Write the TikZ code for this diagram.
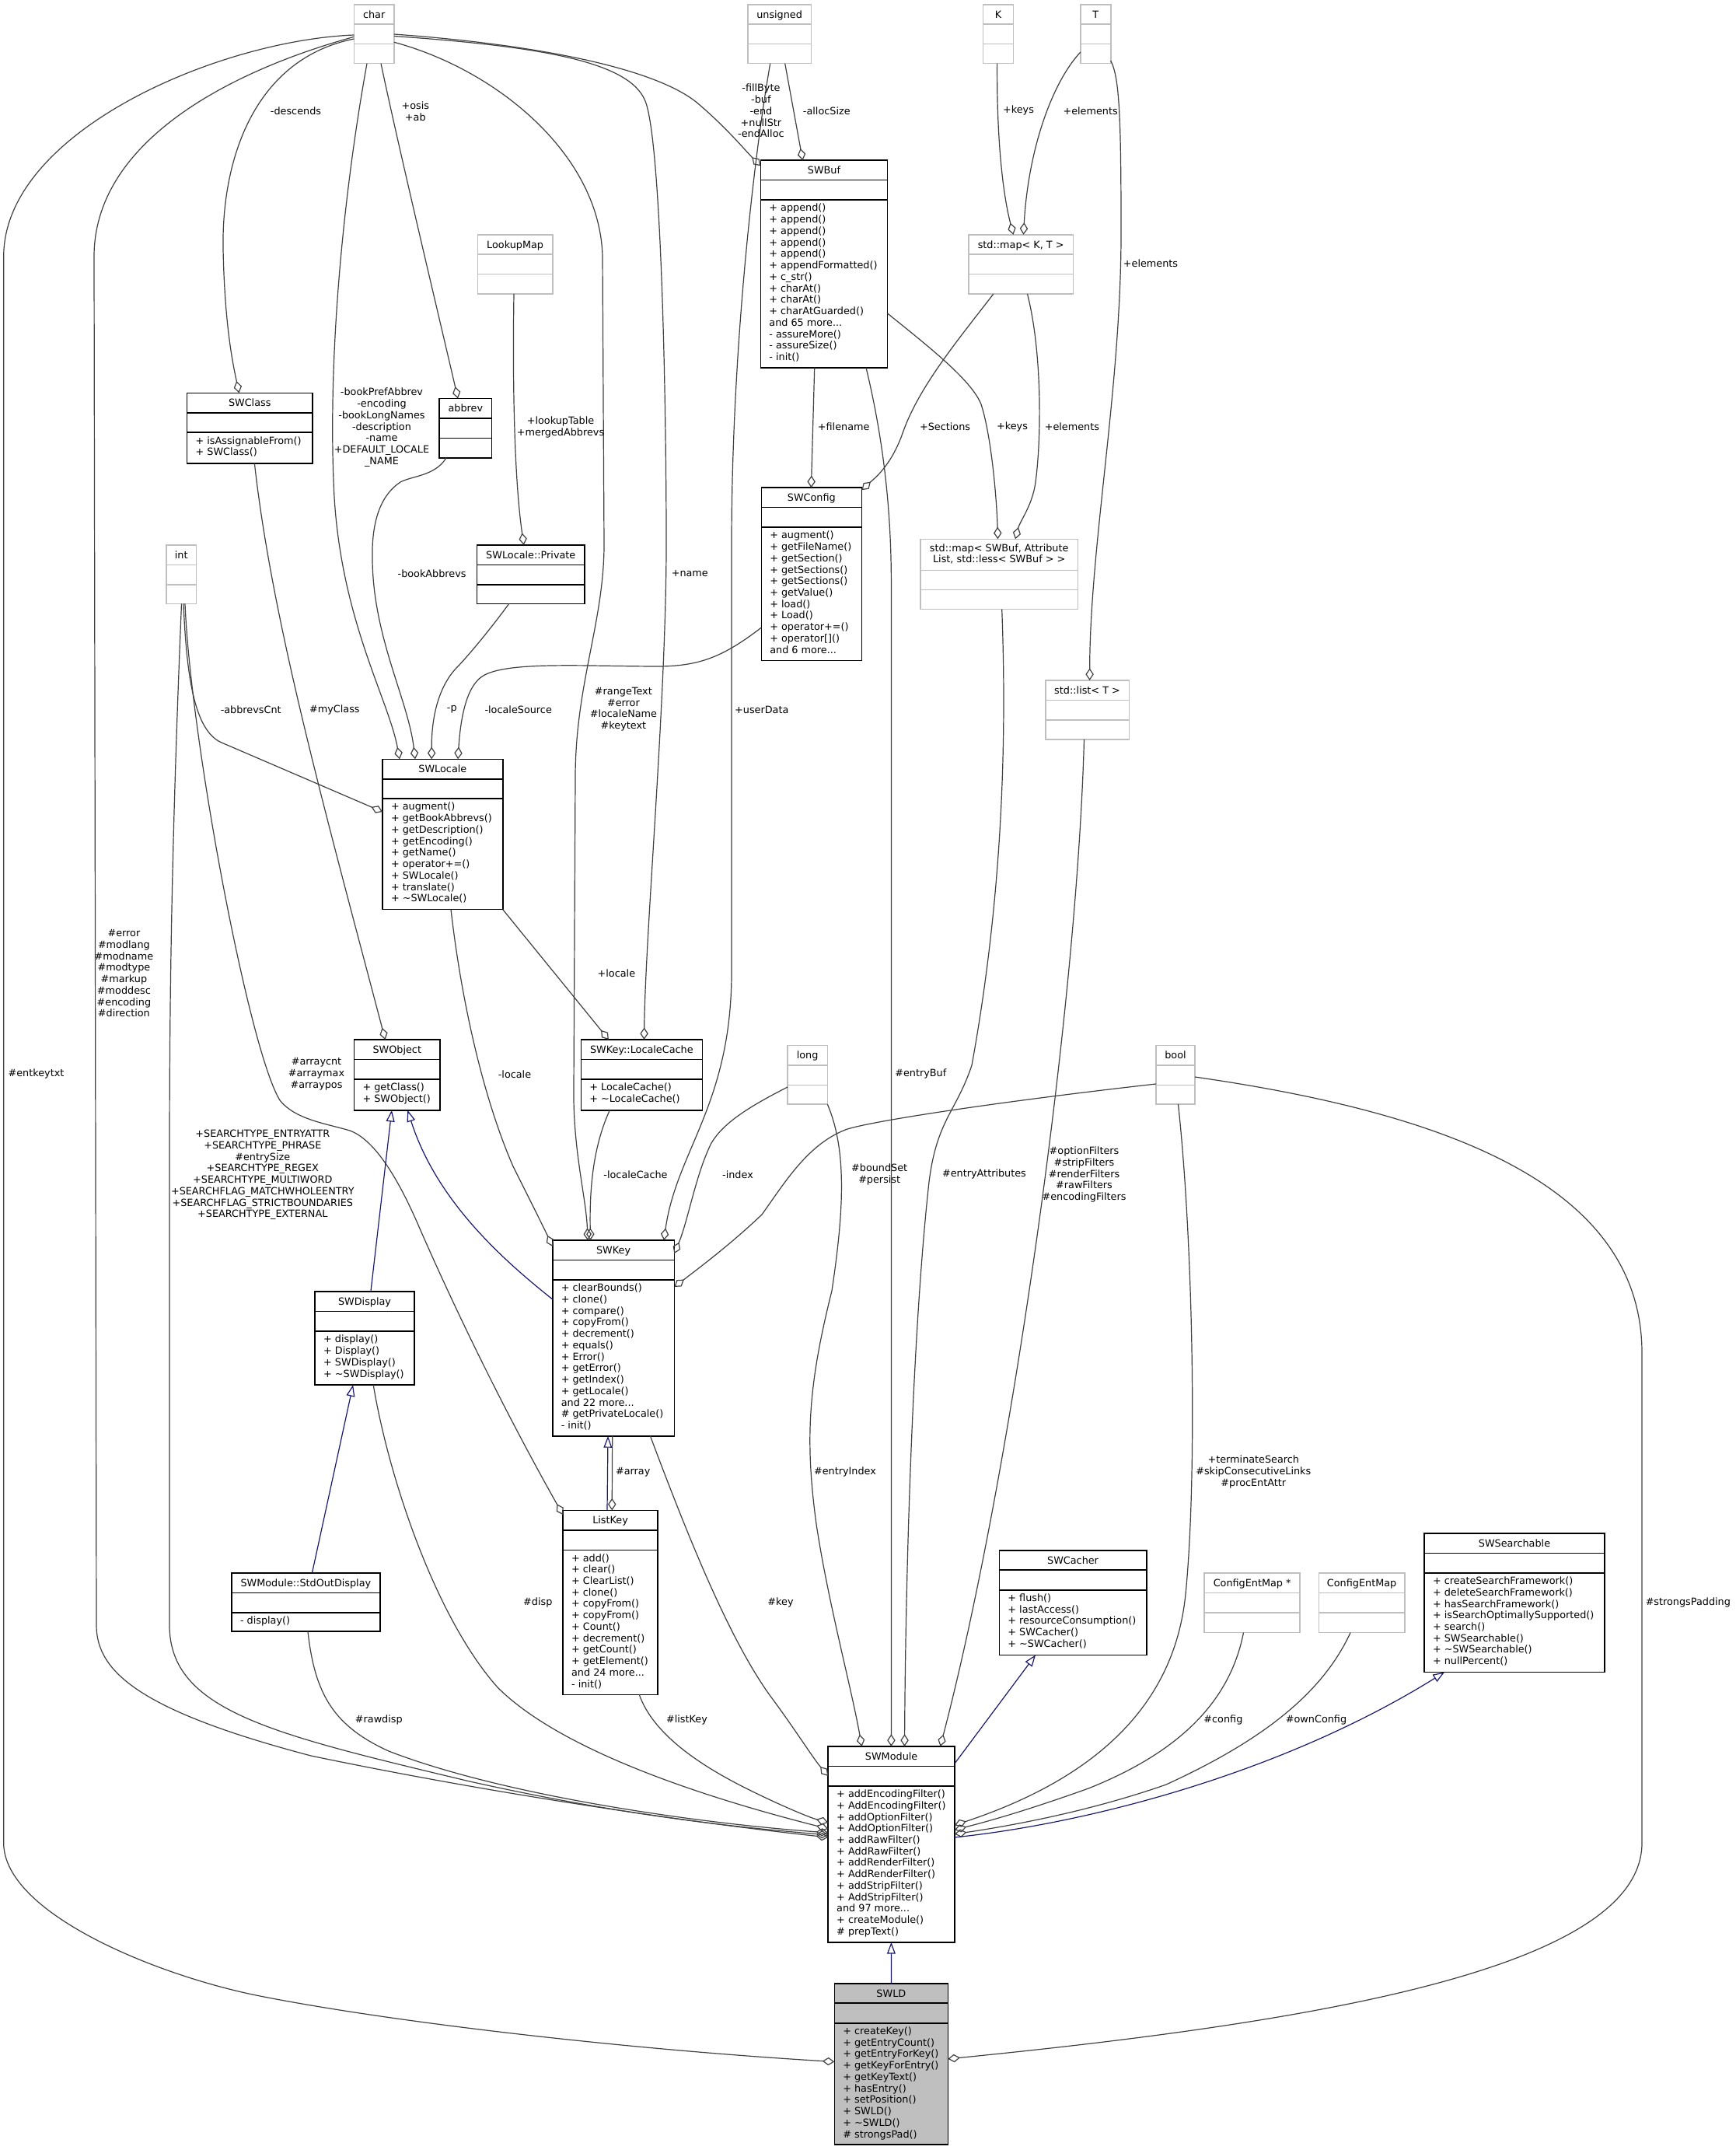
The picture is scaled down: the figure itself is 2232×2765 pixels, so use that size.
\documentclass[tikz,border=0pt]{standalone}
\usepackage{fontspec}
\setmainfont{DejaVu Sans}
\usetikzlibrary{arrows.meta,calc,fit}
\definecolor{edgegray}{HTML}{404040}
\definecolor{midblue}{HTML}{191970}
\definecolor{boxgray}{HTML}{BFBFBF}
\newcommand\UML[9]{%
  \node[box, draw=#2, fill=#9, fit={(#3,#4) (#5,#6)}] (#1) {};
  \draw[draw=#2, line width=0.8pt] ($(#1.north west)+(0,25.4)$) -- ($(#1.north east)+(0,25.4)$);
  \draw[draw=#2, line width=0.8pt] ($(#1.north west)+(0,50.9)$) -- ($(#1.north east)+(0,50.9)$);
  \node[txt, anchor=base] (#1-t) at ($(#1.north)+(0,17.3)$) {#7};
  \node[txt, anchor=north west, align=left] (#1-m) at ($(#1.north west)+(11,55.6)$) {\rule{0pt}{5pt}#8};
}
\begin{document}
\begin{tikzpicture}[x=0.5pt, y={(0pt,-0.5pt)},
  txt/.style={font=\fontsize{6.4}{7.37}\selectfont, inner sep=0pt, outer sep=0pt, text=black},
  lbl/.style={txt, align=center},
  box/.style={inner sep=0pt, outer sep=0pt, line width=0.8pt},
  agg/.style={draw=edgegray, line width=0.6pt, -{Diamond[open, length=7.8pt, width=5.2pt, line width=0.6pt]}},
  inh/.style={draw=midblue, line width=0.6pt, -{Triangle[open, length=7.4pt, width=5.4pt, line width=0.6pt]}}]
\fill[white] (0,0) rectangle (2232,2765);
\useasboundingbox (0,0) rectangle (2232,2765);

% ---------------- boxes ----------------
\UML{char}{boxgray}{455.5}{5.8}{506.8}{81.7}{char}{}{white}
\UML{unsigned}{boxgray}{961.8}{5.8}{1043.4}{81.7}{unsigned}{}{white}
\UML{kk}{boxgray}{1264.5}{5.8}{1303.4}{81.7}{K}{}{white}
\UML{tt}{boxgray}{1389.8}{5.8}{1428.7}{81.7}{T}{}{white}
\UML{swbuf}{black}{978.4}{206.3}{1141.6}{473.2}{SWBuf}{+ append()\\+ append()\\+ append()\\+ append()\\+ append()\\+ appendFormatted()\\+ c\_str()\\+ charAt()\\+ charAt()\\+ charAtGuarded()\\and 65 more...\\- assureMore()\\- assureSize()\\- init()}{white}
\UML{lookupmap}{boxgray}{614.5}{301.8}{710.8}{378.1}{LookupMap}{}{white}
\UML{mapkt}{boxgray}{1246}{301.8}{1380.3}{378.1}{std::map< K, T >}{}{white}
\UML{swclass}{black}{240.6}{505.4}{401.9}{596}{SWClass}{+ isAssignableFrom()\\+ SWClass()}{white}
\UML{abbrev}{black}{565.1}{512.5}{632.5}{588.8}{abbrev}{}{white}
\UML{swconfig}{black}{979.3}{627.2}{1108.4}{849.6}{SWConfig}{+ augment()\\+ getFileName()\\+ getSection()\\+ getSections()\\+ getSections()\\+ getValue()\\+ load()\\+ Load()\\+ operator+=()\\+ operator[]()\\and 6 more...}{white}
\node[box, draw=boxgray, fill=white, fit={(1183.9,693.3) (1386.5,783.5)}] (mapsb) {};
\draw[boxgray, line width=0.8pt] ($(mapsb.north west)+(0,40.2)$) -- ($(mapsb.north east)+(0,40.2)$);
\draw[boxgray, line width=0.8pt] ($(mapsb.north west)+(0,65.2)$) -- ($(mapsb.north east)+(0,65.2)$);
\node[txt, align=center, anchor=north] (mapsb-t) at ($(mapsb.north)+(0,5.7)$) {\rule{0pt}{5pt}std::map< SWBuf, Attribute\\List, std::less< SWBuf > >};
\UML{priv}{black}{613.5}{700.9}{752}{776.3}{SWLocale::Private}{}{white}
\UML{inty}{boxgray}{214}{700.9}{252.4}{776.3}{int}{}{white}
\UML{listt}{boxgray}{1344.7}{875}{1452.4}{950.9}{std::list< T >}{}{white}
\UML{swlocale}{black}{492}{976.3}{646.7}{1169.6}{SWLocale}{+ augment()\\+ getBookAbbrevs()\\+ getDescription()\\+ getEncoding()\\+ getName()\\+ operator+=()\\+ SWLocale()\\+ translate()\\+ \textasciitilde SWLocale()}{white}
\UML{swobject}{black}{455.5}{1337}{566.1}{1427.7}{SWObject}{+ getClass()\\+ SWObject()}{white}
\UML{lcache}{black}{747.3}{1337}{903.4}{1427.7}{SWKey::LocaleCache}{+ LocaleCache()\\+ \textasciitilde LocaleCache()}{white}
\UML{longy}{boxgray}{1013}{1344.6}{1064.3}{1420.1}{long}{}{white}
\UML{booly}{boxgray}{1487}{1344.6}{1537}{1420.1}{bool}{}{white}
\UML{swkey}{black}{710.8}{1595}{867.4}{1846.9}{SWKey}{+ clearBounds()\\+ clone()\\+ compare()\\+ copyFrom()\\+ decrement()\\+ equals()\\+ Error()\\+ getError()\\+ getIndex()\\+ getLocale()\\and 22 more...\\\# getPrivateLocale()\\- init()}{white}
\UML{swdisplay}{black}{405.2}{1661.2}{532.9}{1781}{SWDisplay}{+ display()\\+ Display()\\+ SWDisplay()\\+ \textasciitilde SWDisplay()}{white}
\UML{listkey}{black}{724.1}{1942.4}{846}{2179.4}{ListKey}{+ add()\\+ clear()\\+ ClearList()\\+ clone()\\+ copyFrom()\\+ copyFrom()\\+ Count()\\+ decrement()\\+ getCount()\\+ getElement()\\and 24 more...\\- init()}{white}
\UML{stdout}{black}{298}{2023.2}{488.7}{2098.2}{SWModule::StdOutDisplay}{- display()}{white}
\UML{swcacher}{black}{1285.4}{1993.8}{1474.7}{2128.4}{SWCacher}{+ flush()\\+ lastAccess()\\+ resourceConsumption()\\+ SWCacher()\\+ \textasciitilde SWCacher()}{white}
\UML{swsearch}{black}{1832}{1971.9}{2064}{2150.5}{SWSearchable}{+ createSearchFramework()\\+ deleteSearchFramework()\\+ hasSearchFramework()\\+ isSearchOptimallySupported()\\+ search()\\+ SWSearchable()\\+ \textasciitilde SWSearchable()\\+ nullPercent()}{white}
\UML{cfgp}{boxgray}{1549.2}{2023.2}{1672.1}{2099.5}{ConfigEntMap *}{}{white}
\UML{cfg}{boxgray}{1696.3}{2023.2}{1806.9}{2099.5}{ConfigEntMap}{}{white}
\UML{swmodule}{black}{1065.2}{2245.9}{1228}{2497.8}{SWModule}{+ addEncodingFilter()\\+ AddEncodingFilter()\\+ addOptionFilter()\\+ AddOptionFilter()\\+ addRawFilter()\\+ AddRawFilter()\\+ addRenderFilter()\\+ AddRenderFilter()\\+ addStripFilter()\\+ AddStripFilter()\\and 97 more...\\+ createModule()\\\# prepText()}{white}
\UML{swld}{black}{1073.3}{2550.8}{1219.4}{2758.2}{SWLD}{+ createKey()\\+ getEntryCount()\\+ getEntryForKey()\\+ getKeyForEntry()\\+ getKeyText()\\+ hasEntry()\\+ setPosition()\\+ SWLD()\\+ \textasciitilde SWLD()\\\# strongsPad()}{boxgray}

% ---------------- edges ----------------
% from char
\draw[agg] ($(char.north west)+(0,39.2)$) .. controls (280,52) and (4.7,170) .. (4.7,330) -- (4.7,2370) .. controls (4.7,2460) and (200,2540) .. (332,2566.5) .. controls (500,2600) and (800,2635) .. ($(swld.north west)+(0,100.7)$);
\draw[agg] ($(char.north west)+(0,41.5)$) .. controls (300,90) and (121,180) .. (121,330) -- (124,2090) .. controls (124,2150) and (180,2200) .. (400,2258) .. controls (650,2310) and (900,2345) .. ($(swmodule.north west)+(0,117)$);
\draw[agg] ($(char.north west)+(0,44.2)$) .. controls (330,75) and (285,200) .. (287,320) .. controls (289,420) and (300,470) .. ($(swclass.north west)+(66.9,0)$);
\draw[agg] ($(char.north west)+(16.5,75.9)$) .. controls (445,230) and (420,450) .. (430,640) .. controls (440,800) and (500,900) .. ($(swlocale.north west)+(22,0)$);
\draw[agg] ($(char.north west)+(34.5,75.9)$) .. controls (515,200) and (570,430) .. ($(abbrev.north west)+(23.9,0)$);
\draw[agg] ($(char.north west)+(51.3,48.5)$) .. controls (640,90) and (772,200) .. (775,330) -- (777,700) .. controls (777,800) and (740,880) .. (740,1000) -- (738,1400) .. controls (737,1480) and (754,1540) .. ($(swkey.north west)+(45.2,0)$);
\draw[agg] ($(char.north west)+(51.3,38.2)$) .. controls (700,58) and (850,90) .. (900,135) .. controls (935,165) and (960,195) .. ($(swbuf.north west)+(0,7)$);
\draw[agg] ($(char.north west)+(51.3,40.7)$) .. controls (700,60) and (810,80) .. (830,130) .. controls (850,180) and (857,500) .. (857,700) .. controls (857,900) and (830,1200) .. ($(lcache.north west)+(81.2,0)$);
% from unsigned
\draw[agg] ($(unsigned.north west)+(47.9,75.9)$) -- ($(swbuf.north west)+(54.1,0)$);
\draw[agg] ($(unsigned.north west)+(28.9,75.9)$) .. controls (970,200) and (941,450) .. (941,700) -- (941,1250) .. controls (941,1420) and (870,1480) .. ($(swkey.north west)+(143.2,0)$);
% SWBuf, maps, K, T
\draw[agg] ($(swbuf.north west)+(69.3,266.9)$) -- ($(swconfig.north west)+(64.1,0)$);
\draw[agg] ($(swbuf.north west)+(163.2,196.8)$) .. controls (1200,450) and (1250,490) .. (1262,520) .. controls (1275,560) and (1282,640) .. ($(mapsb.north west)+(99.6,0)$);
\draw[agg] ($(mapkt.north west)+(31.8,76.3)$) .. controls (1230,440) and (1180,500) .. (1160,560) .. controls (1145,600) and (1125,615) .. ($(swconfig.north west)+(129.1,3)$);
\draw[agg] ($(mapkt.north west)+(75.5,76.3)$) .. controls (1340,450) and (1340,560) .. (1332,620) .. controls (1328,650) and (1312,670) .. ($(mapsb.north west)+(122.1,0)$);
\draw[agg] ($(kk.north west)+(18.1,75.9)$) .. controls (1282,180) and (1290,250) .. ($(mapkt.north west)+(57.5,0)$);
\draw[agg] ($(tt.north west)+(0,61.2)$) .. controls (1350,110) and (1322,200) .. ($(mapkt.north west)+(70.5,0)$);
\draw[agg] ($(tt.north west)+(38.9,72.2)$) .. controls (1440,100) and (1442,150) .. (1442,300) .. controls (1442,500) and (1402,700) .. ($(listt.north west)+(56.9,0)$);
% locale cluster
\draw[agg] ($(lookupmap.north west)+(46.5,76.3)$) .. controls (659,500) and (662,620) .. ($(priv.north west)+(60.3,0)$);
\draw[agg] ($(abbrev.north west)+(8.9,76.3)$) .. controls (560,612) and (530,612) .. (515,620) .. controls (485,640) and (478,680) .. (479,720) .. controls (480,820) and (525,900) .. ($(swlocale.north west)+(42,0)$);
\draw[agg] ($(priv.north west)+(41.3,75.4)$) .. controls (630,810) and (605,840) .. (590,856) .. controls (565,880) and (555,920) .. ($(swlocale.north west)+(63.2,0)$);
\draw[agg] ($(swconfig.north west)+(0,179.9)$) .. controls (930,845) and (900,856) .. (850,857) .. controls (750,857) and (650,850) .. (620,870) .. controls (598,885) and (592,930) .. ($(swlocale.north west)+(97,0)$);
% int
\draw[agg] ($(inty.north west)+(22,75.4)$) .. controls (240,870) and (250,940) .. (285,955) -- ($(swlocale.north west)+(0,67.7)$);
\draw[agg] ($(inty.north west)+(24,75.4)$) .. controls (245,950) and (320,1350) .. (360,1415) .. controls (380,1440) and (420,1445) .. (450,1454) .. controls (480,1465) and (510,1510) .. (540,1580) .. controls (610,1740) and (680,1870) .. ($(listkey.north west)+(0,5.6)$);
\draw[agg] ($(inty.north west)+(19.5,75.4)$) .. controls (220,1100) and (218,1300) .. (218,1500) -- (218,2090) .. controls (218,2200) and (350,2230) .. (600,2290) .. controls (800,2335) and (950,2350) .. ($(swmodule.north west)+(0,114)$);
% into SWModule left
\draw[agg] ($(swdisplay.north west)+(75,119.8)$) .. controls (500,1900) and (560,2080) .. (640,2170) .. controls (720,2250) and (900,2310) .. ($(swmodule.north west)+(0,106)$);
\draw[agg] ($(stdout.north west)+(98,75)$) .. controls (405,2180) and (430,2220) .. (500,2252) .. controls (650,2310) and (900,2345) .. ($(swmodule.north west)+(0,111)$);
\draw[agg] ($(listkey.north west)+(98.2,237)$) .. controls (840,2230) and (900,2270) .. (960,2300) .. controls (1000,2320) and (1040,2337) .. ($(swmodule.north west)+(0,98)$);
\draw[agg] ($(swkey.north west)+(125.7,251.9)$) .. controls (890,1990) and (940,2110) .. (990,2180) .. controls (1020,2220) and (1045,2260) .. ($(swmodule.north west)+(0,38)$);
% into SWModule top
\draw[agg] ($(longy.north west)+(51.3,75.5)$) .. controls (1090,1480) and (1085,1560) .. (1070,1660) .. controls (1040,1780) and (1035,1850) .. (1050,1960) .. controls (1065,2060) and (1095,2170) .. ($(swmodule.north west)+(43.3,0)$);
\draw[agg] ($(swbuf.north west)+(135.7,266.9)$) .. controls (1135,560) and (1146.4,650) .. (1146.4,750) -- ($(swmodule.north west)+(81.2,0)$);
\draw[agg] ($(mapsb.north west)+(104.8,90.2)$) .. controls (1295,950) and (1290,1150) .. (1250,1370) .. controls (1230,1430) and (1205,1440) .. (1195,1520) .. controls (1175,1700) and (1165,2000) .. ($(swmodule.north west)+(98.3,0)$);
\draw[agg] ($(listt.north west)+(49.8,75.9)$) .. controls (1385,1300) and (1300,1900) .. ($(swmodule.north west)+(144.3,0)$);
% into SWModule right
\draw[agg] ($(booly.north west)+(28.5,75.5)$) .. controls (1535,1600) and (1540,1900) .. (1525,2050) .. controls (1510,2200) and (1400,2290) .. ($(swmodule.north west)+(162.8,101.3)$);
\draw[agg] ($(cfgp.north west)+(50.3,76.3)$) .. controls (1580,2200) and (1500,2260) .. (1400,2300) .. controls (1330,2325) and (1280,2340) .. ($(swmodule.north west)+(162.8,107.3)$);
\draw[agg] ($(cfg.north west)+(40.8,76.3)$) .. controls (1700,2180) and (1620,2240) .. (1500,2295) .. controls (1400,2330) and (1300,2348) .. ($(swmodule.north west)+(162.8,112.8)$);
\draw[inh] ($(swmodule.north west)+(162.8,117)$) .. controls (1400,2345) and (1650,2280) .. ($(swsearch.north west)+(26,178.6)$);
\draw[inh] ($(swmodule.north west)+(162.8,22)$) -- ($(swcacher.north west)+(46.6,134.6)$);
% SWKey relations
\draw[agg] ($(booly.north west)+(0,49.4)$) .. controls (1300,1415) and (1130,1440) .. (1090,1452) .. controls (1040,1470) and (1010,1520) .. (980,1562) .. controls (940,1600) and (900,1630) .. ($(swkey.north west)+(156.6,60)$);
\draw[agg] ($(longy.north west)+(0,53.4)$) .. controls (960,1425) and (930,1445) .. (915,1470) .. controls (895,1510) and (885,1570) .. ($(swkey.north west)+(156.6,17)$);
\draw[agg] ($(swlocale.north west)+(88,193.3)$) .. controls (595,1300) and (625,1420) .. (660,1500) .. controls (685,1550) and (700,1580) .. ($(swkey.north west)+(0,8)$);
\draw[agg] ($(swlocale.north west)+(154.7,193.3)$) -- ($(lcache.north west)+(35.6,0)$);
\draw[agg] ($(lcache.north west)+(37,90.7)$) .. controls (765,1470) and (758,1520) .. ($(swkey.north west)+(48.7,0)$);
\draw[agg] ($(swclass.north west)+(86.8,90.6)$) .. controls (350,800) and (420,1050) .. ($(swobject.north west)+(40,0)$);
\draw[inh] ($(swkey.north west)+(0,76)$) .. controls (640,1615) and (560,1540) .. ($(swobject.north west)+(68.8,90.7)$);
\draw[inh] ($(swdisplay.north west)+(71.7,0)$) -- ($(swobject.north west)+(48.4,90.7)$);
\draw[inh] ($(stdout.north west)+(103.4,0)$) -- ($(swdisplay.north west)+(48.9,119.8)$);
\draw[inh] ($(listkey.north west)+(56.9,0)$) -- ($(swkey.north west)+(71.2,251.9)$);
\draw[agg] ($(swkey.north west)+(76.9,251.9)$) -- ($(listkey.north west)+(63.1,0)$);
\draw[inh] ($(swld.north west)+(73.1,0)$) -- ($(swmodule.north west)+(81.2,251.9)$);
\draw[agg] ($(booly.north west)+(50,40.4)$) .. controls (1850,1430) and (2112,1520) .. (2112,1740) -- (2112,2370) .. controls (2112,2530) and (1700,2600) .. ($(swld.north west)+(146.1,97)$);

% ---------------- labels ----------------
\node[lbl] (l1) at (46.5,1381.3) {\#entkeytxt};
\node[lbl] (l2) at (159.4,1251.7) {\#error\\\#modlang\\\#modname\\\#modtype\\\#markup\\\#moddesc\\\#encoding\\\#direction};
\node[lbl] (l3) at (380.5,142.4) {-descends};
\node[lbl] (l4) at (534.3,142.9) {+osis\\+ab};
\node[lbl] (l5) at (491,549.7) {-bookPrefAbbrev\\-encoding\\-bookLongNames\\-description\\-name\\+DEFAULT\_LOCALE\\\_NAME};
\node[lbl] (l6) at (721,549.5) {+lookupTable\\+mergedAbbrevs};
\node[lbl] (l7) at (555.6,737.5) {-bookAbbrevs};
\node[lbl] (l8) at (322.7,912.5) {-abbrevsCnt};
\node[lbl] (l9) at (430.4,912.5) {\#myClass};
\node[lbl] (l10) at (581.3,912.5) {-p};
\node[lbl] (l11) at (666.7,912.5) {-localeSource};
\node[lbl] (l12) at (801.9,912.2) {\#rangeText\\\#error\\\#localeName\\\#keytext};
\node[lbl] (l13) at (887.3,737.5) {+name};
\node[lbl] (l14) at (979.8,912.5) {+userData};
\node[lbl] (l15) at (978.9,142.7) {-fillByte\\-buf\\-end\\+nullStr\\-endAlloc};
\node[lbl] (l16) at (1063.3,142.4) {-allocSize};
\node[lbl] (l17) at (1310,142.4) {+keys};
\node[lbl] (l18) at (1402.6,142.4) {+elements};
\node[lbl] (l19) at (1480,338.4) {+elements};
\node[lbl] (l20) at (1085.2,549.1) {+filename};
\node[lbl] (l21) at (1215.6,549.1) {+Sections};
\node[lbl] (l22) at (1302,549.1) {+keys};
\node[lbl] (l23) at (1378.9,549.1) {+elements};
\node[lbl] (l24) at (792.9,1252.2) {+locale};
\node[lbl] (l25) at (1184.3,1381.3) {\#entryBuf};
\node[lbl] (l26) at (662,1381.3) {-locale};
\node[lbl] (l27) at (407,1381.3) {\#arraycnt\\\#arraymax\\\#arraypos};
\node[lbl] (l28) at (337.8,1511) {+SEARCHTYPE\_ENTRYATTR\\+SEARCHTYPE\_PHRASE\\\#entrySize\\+SEARCHTYPE\_REGEX\\+SEARCHTYPE\_MULTIWORD\\+SEARCHFLAG\_MATCHWHOLEENTRY\\+SEARCHFLAG\_STRICTBOUNDARIES\\+SEARCHTYPE\_EXTERNAL};
\node[lbl] (l29) at (817.5,1510.3) {-localeCache};
\node[lbl] (l30) at (949,1510.3) {-index};
\node[lbl] (l31) at (1131.2,1510.7) {\#boundSet\\\#persist};
\node[lbl] (l32) at (1266,1510.3) {\#entryAttributes};
\node[lbl] (l33) at (1394.5,1510.7) {\#optionFilters\\\#stripFilters\\\#renderFilters\\\#rawFilters\\\#encodingFilters};
\node[lbl] (l34) at (814.2,1893.3) {\#array};
\node[lbl] (l35) at (1087,1893.3) {\#entryIndex};
\node[lbl] (l36) at (1612.3,1893) {+terminateSearch\\\#skipConsecutiveLinks\\\#procEntAttr};
\node[lbl] (l37) at (691.8,2060.7) {\#disp};
\node[lbl] (l38) at (1004,2060.7) {\#key};
\node[lbl] (l39) at (2171.3,2060.7) {\#strongsPadding};
\node[lbl] (l40) at (487.3,2212.4) {\#rawdisp};
\node[lbl] (l41) at (883.5,2212.4) {\#listKey};
\node[lbl] (l42) at (1573.4,2212.4) {\#config};
\node[lbl] (l43) at (1693,2212.4) {\#ownConfig};
\end{tikzpicture}
\end{document}
